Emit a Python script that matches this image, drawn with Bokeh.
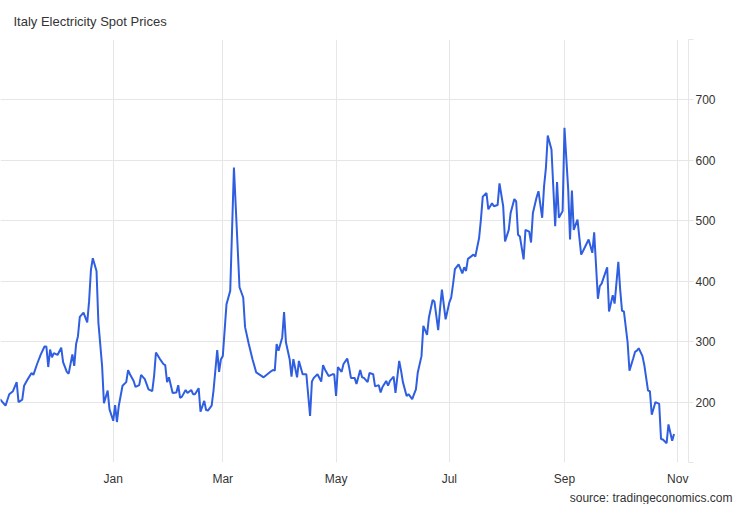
from datetime import datetime
import pandas as pd
from bokeh.plotting import figure
from bokeh.models import Range1d, FixedTicker, DatetimeTickFormatter, Title, ColumnDataSource
from bokeh.embed import file_html
from bokeh.resources import INLINE

dates = [
    "2021-11-01", "2021-11-04", "2021-11-06", "2021-11-08", "2021-11-10", "2021-11-11", "2021-11-13",
    "2021-11-14", "2021-11-16", "2021-11-18", "2021-11-19", "2021-11-21", "2021-11-23", "2021-11-25",
    "2021-11-26", "2021-11-27", "2021-11-28", "2021-11-29", "2021-11-30", "2021-12-02", "2021-12-04",
    "2021-12-05", "2021-12-07", "2021-12-08", "2021-12-10", "2021-12-11", "2021-12-12", "2021-12-13",
    "2021-12-14", "2021-12-16", "2021-12-18", "2021-12-19", "2021-12-20", "2021-12-21", "2021-12-23",
    "2021-12-24", "2021-12-26", "2021-12-27", "2021-12-29", "2021-12-30",
    "2022-01-01", "2022-01-02", "2022-01-03", "2022-01-04", "2022-01-06", "2022-01-08", "2022-01-09",
    "2022-01-10", "2022-01-12", "2022-01-13", "2022-01-15", "2022-01-16", "2022-01-18", "2022-01-20",
    "2022-01-22", "2022-01-23", "2022-01-24", "2022-01-26", "2022-01-28", "2022-01-29", "2022-01-30",
    "2022-01-31", "2022-02-02", "2022-02-04", "2022-02-05", "2022-02-06", "2022-02-07", "2022-02-09",
    "2022-02-10", "2022-02-12", "2022-02-13", "2022-02-14", "2022-02-16", "2022-02-17", "2022-02-19",
    "2022-02-20", "2022-02-21", "2022-02-23", "2022-02-24", "2022-02-26", "2022-02-27", "2022-02-28",
    "2022-03-01", "2022-03-03", "2022-03-05", "2022-03-07", "2022-03-10", "2022-03-12", "2022-03-13",
    "2022-03-15", "2022-03-17", "2022-03-19", "2022-03-21", "2022-03-23", "2022-03-25", "2022-03-27",
    "2022-03-28", "2022-03-29", "2022-03-30", "2022-03-31", "2022-04-02", "2022-04-03", "2022-04-04",
    "2022-04-05", "2022-04-06", "2022-04-07", "2022-04-08", "2022-04-10", "2022-04-11", "2022-04-13",
    "2022-04-15", "2022-04-17", "2022-04-18", "2022-04-19", "2022-04-21", "2022-04-23", "2022-04-24",
    "2022-04-25", "2022-04-27", "2022-04-29", "2022-04-30", "2022-05-01", "2022-05-02", "2022-05-04",
    "2022-05-05", "2022-05-07", "2022-05-08", "2022-05-09", "2022-05-11", "2022-05-12", "2022-05-14",
    "2022-05-15", "2022-05-16", "2022-05-18", "2022-05-19", "2022-05-21", "2022-05-22", "2022-05-24",
    "2022-05-25", "2022-05-26", "2022-05-28", "2022-05-29", "2022-05-30", "2022-06-01", "2022-06-02",
    "2022-06-04", "2022-06-05", "2022-06-06", "2022-06-08", "2022-06-09", "2022-06-11", "2022-06-12",
    "2022-06-13", "2022-06-14", "2022-06-16", "2022-06-17", "2022-06-19", "2022-06-20", "2022-06-22",
    "2022-06-23", "2022-06-25", "2022-06-26", "2022-06-27", "2022-06-29", "2022-07-01", "2022-07-02",
    "2022-07-03", "2022-07-04", "2022-07-06", "2022-07-08", "2022-07-09", "2022-07-10", "2022-07-11",
    "2022-07-14", "2022-07-15", "2022-07-17", "2022-07-18", "2022-07-19", "2022-07-21", "2022-07-22",
    "2022-07-24", "2022-07-25", "2022-07-27", "2022-07-28", "2022-07-30", "2022-07-31", "2022-08-02",
    "2022-08-03", "2022-08-05", "2022-08-06", "2022-08-07", "2022-08-08", "2022-08-10", "2022-08-11",
    "2022-08-13", "2022-08-14", "2022-08-15", "2022-08-17", "2022-08-18", "2022-08-20", "2022-08-21",
    "2022-08-22", "2022-08-23", "2022-08-25", "2022-08-27", "2022-08-28", "2022-08-29", "2022-08-31",
    "2022-09-01", "2022-09-03", "2022-09-04", "2022-09-05", "2022-09-06", "2022-09-08", "2022-09-10",
    "2022-09-11", "2022-09-14", "2022-09-16", "2022-09-17", "2022-09-19", "2022-09-20", "2022-09-21",
    "2022-09-24", "2022-09-25", "2022-09-27", "2022-09-28", "2022-09-30", "2022-10-01", "2022-10-02",
    "2022-10-03", "2022-10-05", "2022-10-06", "2022-10-08", "2022-10-09", "2022-10-10", "2022-10-11",
    "2022-10-13", "2022-10-14", "2022-10-16", "2022-10-17", "2022-10-18", "2022-10-20", "2022-10-22",
    "2022-10-23", "2022-10-24", "2022-10-26", "2022-10-27", "2022-10-29", "2022-10-30",
]

prices = [
    205, 194, 213, 218, 233, 200, 204,
    227, 238, 248, 245, 263, 279, 292,
    292, 258, 287, 274, 281, 278, 290,
    266, 250, 247, 279, 260, 296, 309,
    341, 348, 332, 367, 419, 438, 417,
    332, 260, 198, 219, 188,
    169, 195, 167, 194, 227, 233, 253,
    246, 235, 225, 228, 245, 238, 221,
    218, 243, 282, 272, 263, 261, 233,
    241, 215, 216, 228, 207, 209, 220,
    215, 220, 213, 213, 223, 184, 202,
    187, 186, 194, 219, 286, 250, 271,
    276, 362, 384, 588, 390, 373, 324,
    296, 271, 249, 245, 241, 246, 251,
    253, 252, 296, 285, 307, 349, 299,
    285, 271, 242, 271, 241, 268, 246,
    246, 177, 234, 240, 246, 234, 261,
    254, 243, 246, 246, 210, 258, 250,
    263, 272, 258, 240, 240, 230, 253,
    241, 240, 233, 248, 246, 226, 228,
    216, 225, 235, 227, 235, 242, 215,
    268, 252, 233, 210, 213, 205, 213,
    221, 249, 276, 326, 311, 340, 369,
    366, 319, 355, 386, 337, 365, 373,
    395, 420, 428, 413, 423, 417, 437,
    444, 441, 471, 502, 540, 546, 519,
    529, 524, 526, 562, 524, 466, 485,
    513, 536, 532, 477, 474, 436, 485,
    482, 464, 513, 539, 549, 505, 557,
    587, 641, 618, 491, 564, 505, 516,
    654, 552, 469, 550, 485, 502, 444,
    450, 469, 447, 481, 371, 392, 396,
    423, 350, 377, 363, 432, 386, 351,
    350, 299, 252, 272, 283, 285, 289,
    276, 261, 219, 218, 179, 200, 197,
    139, 138, 132, 163, 136, 147,
]

month_ticks = ["2022-01-01", "2022-03-01", "2022-05-01", "2022-07-01", "2022-09-01", "2022-11-01"]
y_ticks = [100, 200, 300, 400, 500, 600, 700, 800]

title_text = "Italy Electricity Spot Prices"
source_text = "source: tradingeconomics.com"

FONT = "Liberation Sans"
GRID = "#e6e6e6"
TEXT = "#333333"

src = ColumnDataSource(dict(date=pd.to_datetime(dates), price=prices))

p = figure(
    width=734, height=504,
    x_axis_type="datetime", y_axis_location="right",
    x_range=Range1d(datetime(2021, 11, 1, 7), datetime(2022, 11, 6, 19)),
    y_range=Range1d(100, 800),
    output_backend="svg", toolbar_location=None,
    min_border_left=0, min_border_right=46, min_border_top=39, min_border_bottom=41,
)

p.line("date", "price", source=src, line_color="#2f5fe0", line_width=2)

p.title.text = title_text
p.title.align = "left"
p.title.offset = 13
p.title.standoff = 21
p.title.text_font = FONT
p.title.text_font_size = "13px"
p.title.text_font_style = "normal"
p.title.text_color = TEXT

p.outline_line_color = None
p.background_fill_color = "white"
p.border_fill_color = "white"

tick_ms = [pd.Timestamp(t).value // 10**6 for t in month_ticks]
p.xaxis.ticker = FixedTicker(ticks=tick_ms)
p.xaxis.formatter = DatetimeTickFormatter(months="%b", days="%b", hours="%b")
p.xaxis.axis_line_color = None
p.xaxis.major_tick_line_color = None
p.xaxis.major_tick_in = 0
p.xaxis.major_tick_out = 0
p.xaxis.minor_tick_line_color = None
p.xaxis.minor_tick_out = 0
p.xaxis.major_label_standoff = 9
p.xaxis.major_label_text_font = FONT
p.xaxis.major_label_text_font_size = "12px"
p.xaxis.major_label_text_color = TEXT

p.yaxis.ticker = FixedTicker(ticks=y_ticks)
p.yaxis.major_label_overrides = {100: "", 800: ""}
p.yaxis.axis_line_color = GRID
p.yaxis.major_tick_line_color = GRID
p.yaxis.major_tick_in = 0
p.yaxis.major_tick_out = 5
p.yaxis.minor_tick_line_color = None
p.yaxis.major_label_standoff = 2
p.yaxis.major_label_text_font = FONT
p.yaxis.major_label_text_font_size = "12px"
p.yaxis.major_label_text_color = TEXT

p.xgrid.grid_line_color = GRID
p.ygrid.grid_line_color = GRID

p.add_layout(Title(text=source_text, align="right", text_font=FONT, text_font_size="12px",
                   text_font_style="normal", text_color=TEXT, offset=-44, standoff=0), "below")

open("out.html", "w").write(file_html(p, INLINE))
